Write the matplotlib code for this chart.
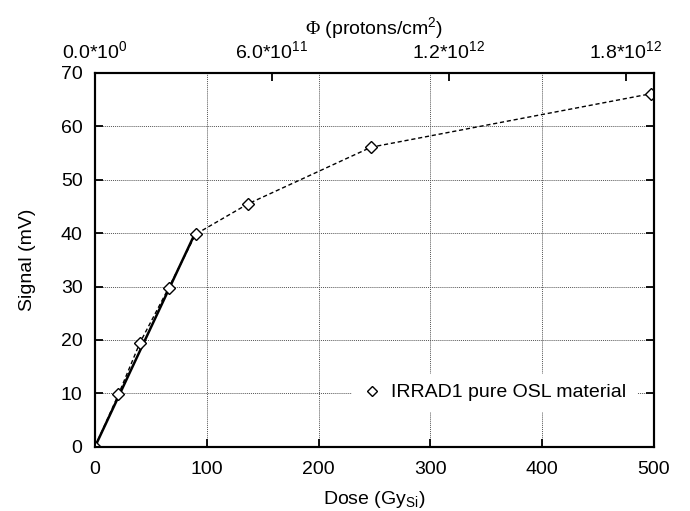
import numpy as np
import matplotlib
matplotlib.use('Agg')
import matplotlib.pyplot as plt

plt.rcParams['font.family'] = ['Liberation Sans', 'DejaVu Sans']
plt.rcParams['mathtext.fontset'] = 'custom'
plt.rcParams['mathtext.rm'] = 'Liberation Sans'
plt.rcParams['mathtext.it'] = 'Liberation Sans:italic'
plt.rcParams['mathtext.cal'] = 'Liberation Serif'

# measured points
dose = [0, 21, 40, 66, 90, 137, 247, 497]
signal = [0, 9.8, 19.4, 29.8, 39.8, 45.5, 56.1, 66.1]

# linear fit on the low-dose part
fit_dose = [0, 90]
fit_signal = [0, 40.2]

# fluence axis (protons/cm2) matching dose 0..500 Gy
fluence_max = 1.896e12
fluence_ticks = [0, 6e11, 1.2e12, 1.8e12]
fluence_labels = ['0.0*10$^{0}$', '6.0*10$^{11}$', '1.2*10$^{12}$', '1.8*10$^{12}$']

FS = 14

fig = plt.figure(figsize=(6.9, 5.11), dpi=100)
ax = fig.add_axes([0.1377, 0.1258, 0.8101, 0.7314])

ax.plot(dose, signal, ls='--', dashes=(3, 2), color='black', lw=1.0,
        marker='D', ms=6.2, mfc='white', mec='black', mew=1.0,
        label='IRRAD1 pure OSL material', zorder=3)
ax.plot(fit_dose, fit_signal, '-', color='black', lw=1.8, zorder=2)

ax.set_xlim(0, 500)
ax.set_ylim(0, 70)
ax.set_xticks([0, 100, 200, 300, 400, 500])
ax.set_yticks(range(0, 71, 10))
ax.grid(True, ls=(0, (1, 1)), color='#555555', lw=0.7)
ax.tick_params(direction='in', length=6, width=1.3, labelsize=FS,
               top=True, right=True)
ax.tick_params(axis='x', pad=10)
ax.tick_params(axis='y', pad=9)
for s in ax.spines.values():
    s.set_linewidth(1.5)

ax.set_xlabel('Dose (Gy$_{\\mathrm{Si}}$)', fontsize=FS, labelpad=8)
ax.set_ylabel('Signal (mV)', fontsize=FS, labelpad=18)

leg = ax.legend(loc='lower right', bbox_to_anchor=(0.968, 0.095),
                borderaxespad=0, frameon=True, fontsize=FS, handlelength=1.0,
                handletextpad=0.5, borderpad=0.5, markerscale=0.75)
leg.get_frame().set_edgecolor('white')
leg.get_frame().set_facecolor('white')
leg.get_frame().set_alpha(1.0)
leg.get_frame().set_boxstyle('square', pad=0.0)
for h in leg.legend_handles:
    h.set_linestyle('None')

top = ax.twiny()
top.set_xlim(0, fluence_max)
top.set_xticks(fluence_ticks)
top.set_xticklabels(fluence_labels)
top.tick_params(direction='in', length=6, width=1.3, labelsize=FS, pad=8)
top.set_xlabel('$\\mathcal{\\Phi}$ (protons/cm$^2$)', fontsize=FS, labelpad=4)
for s in top.spines.values():
    s.set_linewidth(1.5)

fig.savefig('out.png', dpi=100)
